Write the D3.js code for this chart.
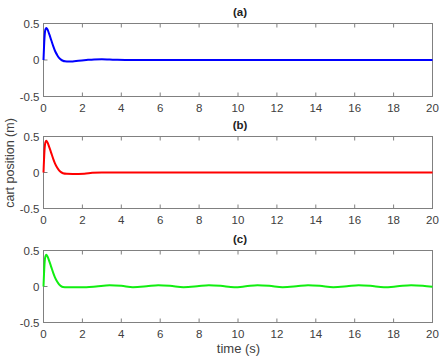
<!DOCTYPE html>
<html><head><meta charset="utf-8">
<script src="https://cdn.jsdelivr.net/npm/d3@7"></script>
<style>body{margin:0;background:#fff}svg{display:block}text{font-family:"Liberation Sans",Arial,sans-serif}</style>
</head><body><svg id="c" width="443" height="358"></svg>
<script>
const panelTitles = ["(a)", "(b)", "(c)"];
const xTicks = [0, 2, 4, 6, 8, 10, 12, 14, 16, 18, 20];
const yTicks = [-0.5, 0, 0.5];
const colors = ["#0000ff", "#ff0000", "#11ee11"];

const tBlue = [0,0.05,0.1,0.15,0.2,0.3,0.4,0.5,0.6,0.7,0.8,0.9,1.0,1.1,1.3,1.5,1.8,2.2,2.6,3.0,3.4,3.8,4.2,5,20];
const yBlue = [0,0.3,0.42,0.44,0.42,0.35,0.27,0.19,0.12,0.07,0.03,0.005,-0.01,-0.018,-0.022,-0.02,-0.01,0.0,0.008,0.01,0.006,0.002,0,0,0];

const tRed = [0,0.05,0.1,0.15,0.2,0.3,0.4,0.5,0.6,0.7,0.8,0.9,1.0,1.2,1.5,1.8,2.1,2.5,3.0,4,20];
const yRed = [0,0.3,0.42,0.44,0.42,0.35,0.27,0.19,0.12,0.07,0.03,0.005,-0.01,-0.018,-0.02,-0.02,-0.018,-0.005,0,0,0];

const tGreen = [0,0.05,0.1,0.15,0.2,0.3,0.4,0.5,0.6,0.7,0.8,0.9,1.0,1.2,1.6,2.2,2.7,3.4,4.0,4.6,5.3,5.9,6.5,7.2,7.9,8.5,9.1,9.8,10.4,11.0,11.6,12.3,13.0,13.6,14.2,14.9,15.6,16.2,16.8,17.5,18.2,18.9,19.5,20];
const yGreen = [0,0.3,0.42,0.44,0.42,0.35,0.27,0.19,0.12,0.07,0.03,0.005,-0.008,-0.012,-0.012,-0.01,0.0,0.018,0.01,-0.01,0.002,0.018,0.01,-0.01,0.002,0.018,0.01,-0.01,0.002,0.018,0.01,-0.01,0.002,0.018,0.01,-0.01,0.002,0.018,0.01,-0.01,0.002,0.018,0.01,-0.005];

const series = [[tBlue,yBlue],[tRed,yRed],[tGreen,yGreen]];
const panels = [{top:23,bottom:96},{top:136,bottom:208},{top:250,bottom:322}];

const svg = d3.select("#c");
const x = d3.scaleLinear().domain([0,20]).range([43.5,432.5]);
const axisColor = "#808080";

panels.forEach((p,i)=>{
  const y = d3.scaleLinear().domain([-0.5,0.5]).range([p.bottom+0.5,p.top+0.5]);
  const g = svg.append("g");
  g.append("rect").attr("x",x(0)).attr("y",y(0.5)).attr("width",x(20)-x(0)).attr("height",y(-0.5)-y(0.5))
    .attr("fill","#fff").attr("stroke",axisColor).attr("stroke-width",1);
  xTicks.forEach(t=>{
    g.append("line").attr("x1",x(t)).attr("x2",x(t)).attr("y1",y(-0.5)).attr("y2",y(-0.5)-4).attr("stroke",axisColor);
    g.append("line").attr("x1",x(t)).attr("x2",x(t)).attr("y1",y(0.5)).attr("y2",y(0.5)+4).attr("stroke",axisColor);
    g.append("text").attr("x",x(t)).attr("y",y(-0.5)+15).attr("text-anchor","middle").attr("font-size",11.5).attr("fill","#404040").text(t);
  });
  yTicks.forEach(v=>{
    g.append("line").attr("x1",x(0)).attr("x2",x(0)+4).attr("y1",y(v)).attr("y2",y(v)).attr("stroke",axisColor);
    g.append("line").attr("x1",x(20)).attr("x2",x(20)-4).attr("y1",y(v)).attr("y2",y(v)).attr("stroke",axisColor);
    g.append("text").attr("x",x(0)-4).attr("y",y(v)+4).attr("text-anchor","end").attr("font-size",11.5).attr("fill","#404040").text(v);
  });
  const [ts,vs] = series[i];
  const pts = ts.map((t,k)=>[t,vs[k]]);
  const line = d3.line().x(d=>x(d[0])).y(d=>y(d[1])).curve(d3.curveMonotoneX);
  g.append("path").attr("d",line(pts)).attr("fill","none").attr("stroke",colors[i]).attr("stroke-width",2);
  g.append("text").attr("x",240).attr("y",p.top-7).attr("text-anchor","middle")
    .attr("font-size",11.5).attr("font-weight","bold").attr("fill","#222").text(panelTitles[i]);
});

svg.append("text").attr("x",238.5).attr("y",353).attr("text-anchor","middle").attr("font-size",13).attr("fill","#404040").text("time (s)");
svg.append("text").attr("transform","translate(14,163) rotate(-90)").attr("text-anchor","middle").attr("font-size",12.5).attr("fill","#404040").text("cart position (m)");
</script></body></html>
